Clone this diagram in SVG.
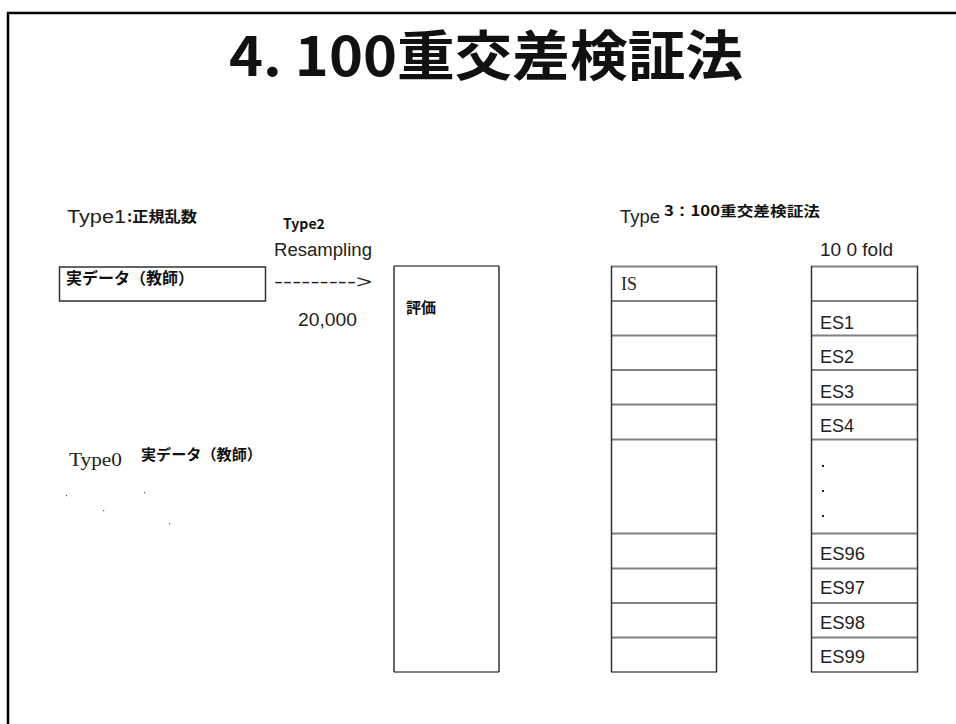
<svg xmlns="http://www.w3.org/2000/svg" width="956" height="724" viewBox="0 0 956 724">
<style>
.t{font-family:"Liberation Sans","Noto Sans CJK JP",sans-serif;fill:#222;font-size:18px}
.b{font-family:"Noto Sans CJK JP","Liberation Sans",sans-serif;font-weight:bold;fill:#111}
.s{font-family:"Liberation Serif","Noto Sans CJK JP",serif;fill:#222;font-size:18px}
.h{stroke:#808080;stroke-width:2}
.v{stroke:#333;stroke-width:1.5}
</style>
<rect width="956" height="724" fill="#fff"/>
<path d="M8,724 V13 H956" fill="none" stroke="#000" stroke-width="2.5"/>
<g id="title"><text class="b" x="486" y="76" font-size="54" text-anchor="middle" textLength="514" lengthAdjust="spacingAndGlyphs">4. 100重交差検証法</text></g>
<g id="type1">
<text class="t" x="67" y="223" textLength="59" lengthAdjust="spacingAndGlyphs">Type1</text>
<text class="b" x="127" y="222" font-size="15" textLength="70" lengthAdjust="spacingAndGlyphs">:正規乱数</text>
</g>
<g id="realdata">
<rect x="59.5" y="267" width="206" height="34" fill="none" stroke="#333" stroke-width="1.5"/>
<text class="b" x="66" y="284" font-size="16">実データ（教師）</text>
</g>
<g id="type2">
<text class="b" x="283" y="229" font-size="14">Type2</text>
<text class="t" x="274" y="256" textLength="98" lengthAdjust="spacingAndGlyphs">Resampling</text>
<text class="t" x="298" y="326" textLength="59" lengthAdjust="spacingAndGlyphs">20,000</text>
</g>
<g id="connectors">
<text class="t" x="274" y="288" font-size="16" textLength="98" lengthAdjust="spacingAndGlyphs">---------&gt;</text>
</g>
<g id="eval">
<line class="h" x1="394" y1="266" x2="499" y2="266"/>
<line class="h" x1="394" y1="672" x2="499" y2="672"/>
<line class="v" x1="394" y1="266" x2="394" y2="672"/>
<line class="v" x1="499" y1="266" x2="499" y2="672"/>
<text class="b" x="406" y="313" font-size="15">評価</text>
</g>
<g id="type0">
<text class="s" x="69" y="466" textLength="53" lengthAdjust="spacingAndGlyphs">Type0</text>
<text class="b" x="141" y="460" font-size="15" textLength="121" lengthAdjust="spacingAndGlyphs">実データ（教師）</text>
<g fill="#555"><rect x="66" y="495" width="1.2" height="1.2"/><rect x="144" y="492" width="1.2" height="1.2"/><rect x="103" y="510" width="1.2" height="1.2"/><rect x="169" y="523" width="1.2" height="1.2"/></g>
</g>
<g id="type3">
<text class="t" x="620" y="223" textLength="40" lengthAdjust="spacingAndGlyphs">Type</text>
<text class="b" x="664" y="216" font-size="14" textLength="156" lengthAdjust="spacingAndGlyphs">3：100重交差検証法</text>
</g>
<g id="is-col">
<g class="h">
<line x1="611" y1="266.5" x2="717" y2="266.5"/>
<line x1="611" y1="301" x2="717" y2="301"/>
<line x1="611" y1="335.5" x2="717" y2="335.5"/>
<line x1="611" y1="370" x2="717" y2="370"/>
<line x1="611" y1="404.5" x2="717" y2="404.5"/>
<line x1="611" y1="439.5" x2="717" y2="439.5"/>
<line x1="611" y1="533.5" x2="717" y2="533.5"/>
<line x1="611" y1="568.5" x2="717" y2="568.5"/>
<line x1="611" y1="603" x2="717" y2="603"/>
<line x1="611" y1="637.5" x2="717" y2="637.5"/>
<line x1="611" y1="672" x2="717" y2="672"/>
</g>
<line class="v" x1="611.5" y1="266" x2="611.5" y2="672"/>
<line class="v" x1="716.5" y1="266" x2="716.5" y2="672"/>
<text class="s" x="621" y="290" textLength="16" lengthAdjust="spacingAndGlyphs">IS</text>
</g>
<g id="es-col">
<text class="t" x="820" y="256" textLength="73" lengthAdjust="spacingAndGlyphs">10 0 fold</text>
<g class="h">
<line x1="811" y1="266.5" x2="918" y2="266.5"/>
<line x1="811" y1="301" x2="918" y2="301"/>
<line x1="811" y1="335.5" x2="918" y2="335.5"/>
<line x1="811" y1="370" x2="918" y2="370"/>
<line x1="811" y1="404.5" x2="918" y2="404.5"/>
<line x1="811" y1="439.5" x2="918" y2="439.5"/>
<line x1="811" y1="533.5" x2="918" y2="533.5"/>
<line x1="811" y1="568.5" x2="918" y2="568.5"/>
<line x1="811" y1="603" x2="918" y2="603"/>
<line x1="811" y1="637.5" x2="918" y2="637.5"/>
<line x1="811" y1="672" x2="918" y2="672"/>
</g>
<line class="v" x1="811.5" y1="266" x2="811.5" y2="672"/>
<line class="v" x1="917.5" y1="266" x2="917.5" y2="672"/>
<text class="t" x="820" y="329" textLength="34" lengthAdjust="spacingAndGlyphs">ES1</text>
<text class="t" x="820" y="363" textLength="34" lengthAdjust="spacingAndGlyphs">ES2</text>
<text class="t" x="820" y="398" textLength="34" lengthAdjust="spacingAndGlyphs">ES3</text>
<text class="t" x="820" y="432" textLength="34" lengthAdjust="spacingAndGlyphs">ES4</text>
<g fill="#222"><rect x="822" y="465" width="2" height="2"/><rect x="822" y="490" width="2" height="2"/><rect x="822" y="515" width="2" height="2"/></g>
<text class="t" x="820" y="560" textLength="45" lengthAdjust="spacingAndGlyphs">ES96</text>
<text class="t" x="820" y="594" textLength="45" lengthAdjust="spacingAndGlyphs">ES97</text>
<text class="t" x="820" y="629" textLength="45" lengthAdjust="spacingAndGlyphs">ES98</text>
<text class="t" x="820" y="663" textLength="45" lengthAdjust="spacingAndGlyphs">ES99</text>
</g>
</svg>
